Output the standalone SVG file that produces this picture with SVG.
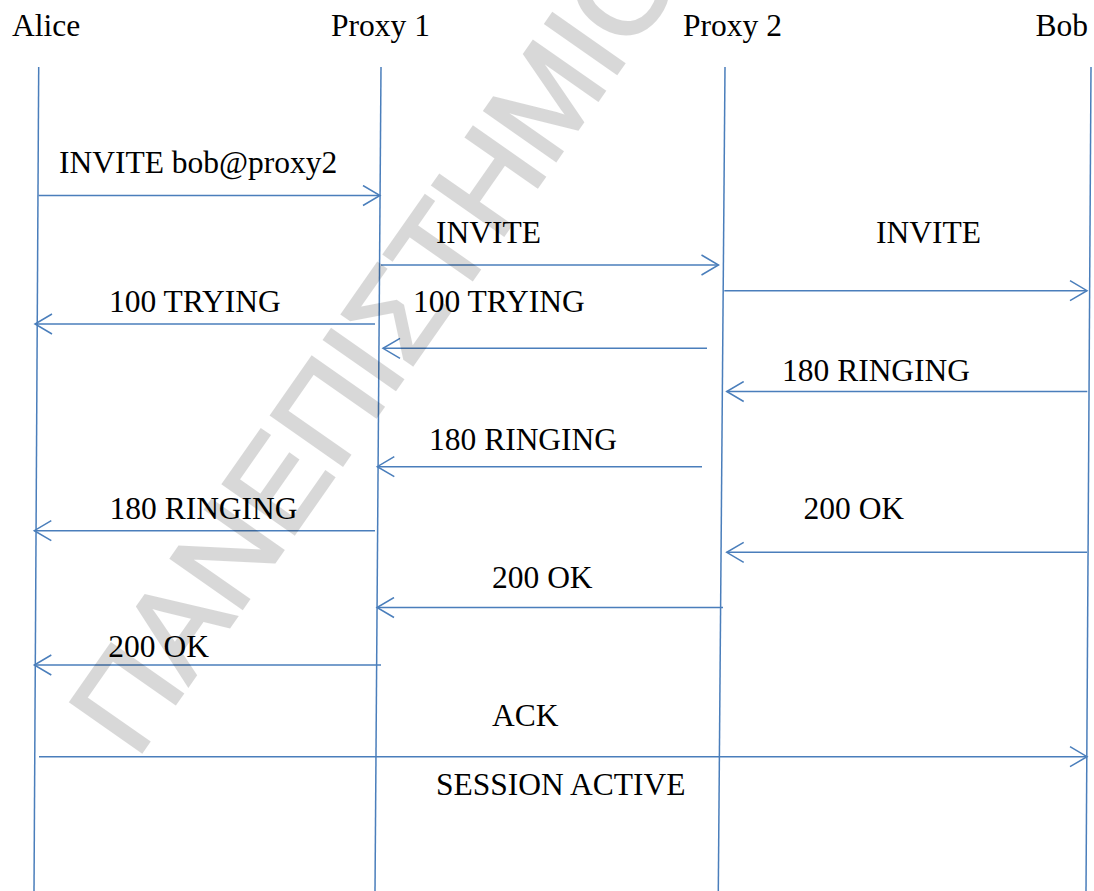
<svg xmlns="http://www.w3.org/2000/svg" width="1094" height="891" viewBox="0 0 1094 891">
  <style>
    .lbl { font-family: "Liberation Serif", "Times New Roman", serif; font-size: 31.5px; fill: #000; }
    .life { stroke: #4A7EBB; stroke-width: 1.5; fill: none; }
    .msg { stroke: #4A7EBB; stroke-width: 1.5; fill: none; marker-end: url(#arr); }
    .wm { font-family: "Liberation Sans", Arial, sans-serif; font-size: 126px; fill: #000; stroke: #000; stroke-width: 3; }
  </style>
  <defs>
    <marker id="arr" markerUnits="userSpaceOnUse" viewBox="0 0 20 22" markerWidth="20" markerHeight="22" refX="18" refY="11" orient="auto">
      <path d="M1,1 L18,11 L1,21" fill="none" stroke="#4A7EBB" stroke-width="1.5"/>
    </marker>
  </defs>
  <rect width="1094" height="891" fill="#fff"/>

  <g id="alice">
    <text class="lbl" x="12" y="35.5">Alice</text>
    <line class="life" x1="38.7" y1="67" x2="34" y2="891"/>
  </g>
  <g id="proxy1">
    <text class="lbl" x="331" y="35.5">Proxy 1</text>
    <line class="life" x1="381" y1="67" x2="375" y2="891"/>
  </g>
  <g id="proxy2">
    <text class="lbl" x="683" y="35.5">Proxy 2</text>
    <line class="life" x1="725" y1="67" x2="718.3" y2="891"/>
  </g>
  <g id="bob">
    <text class="lbl" x="1035.5" y="35.5">Bob</text>
    <line class="life" x1="1091" y1="67" x2="1086" y2="891"/>
  </g>

  <g id="connectors">
    <line class="msg" x1="38.5" y1="195.5" x2="380" y2="195.5"/>
    <line class="msg" x1="381" y1="265" x2="718.5" y2="265"/>
    <line class="msg" x1="724.3" y1="290.7" x2="1087" y2="290.7"/>
    <line class="msg" x1="375" y1="324" x2="35" y2="324"/>
    <line class="msg" x1="707" y1="348.3" x2="383" y2="348.3"/>
    <line class="msg" x1="1087.3" y1="391.5" x2="726.7" y2="391.5"/>
    <line class="msg" x1="702" y1="466.7" x2="377.3" y2="466.7"/>
    <line class="msg" x1="375" y1="530.7" x2="34.3" y2="530.7"/>
    <line class="msg" x1="1087" y1="552.3" x2="726.7" y2="552.3"/>
    <line class="msg" x1="723" y1="607.5" x2="377" y2="607.5"/>
    <line class="msg" x1="381" y1="665" x2="34.3" y2="665"/>
    <line class="msg" x1="39" y1="756.7" x2="1087" y2="756.7"/>
  </g>

  <g id="labels">
    <text class="lbl" x="59" y="173">INVITE bob@proxy2</text>
    <text class="lbl" x="436" y="242.5">INVITE</text>
    <text class="lbl" x="876" y="242.5">INVITE</text>
    <text class="lbl" x="109" y="312">100 TRYING</text>
    <text class="lbl" x="413" y="312">100 TRYING</text>
    <text class="lbl" x="782" y="381">180 RINGING</text>
    <text class="lbl" x="429" y="450">180 RINGING</text>
    <text class="lbl" x="109.5" y="519">180 RINGING</text>
    <text class="lbl" x="803.5" y="519">200 OK</text>
    <text class="lbl" x="492" y="588">200 OK</text>
    <text class="lbl" x="108.3" y="656.7">200 OK</text>
    <text class="lbl" x="492" y="726">ACK</text>
    <text class="lbl" x="436" y="795">SESSION ACTIVE</text>
  </g>

  <g id="watermark" opacity="0.15">
    <text class="wm" transform="translate(136 760) rotate(-55)">ΠΑΝΕΠΙΣΤΗΜΙΟ</text>
  </g>
</svg>
